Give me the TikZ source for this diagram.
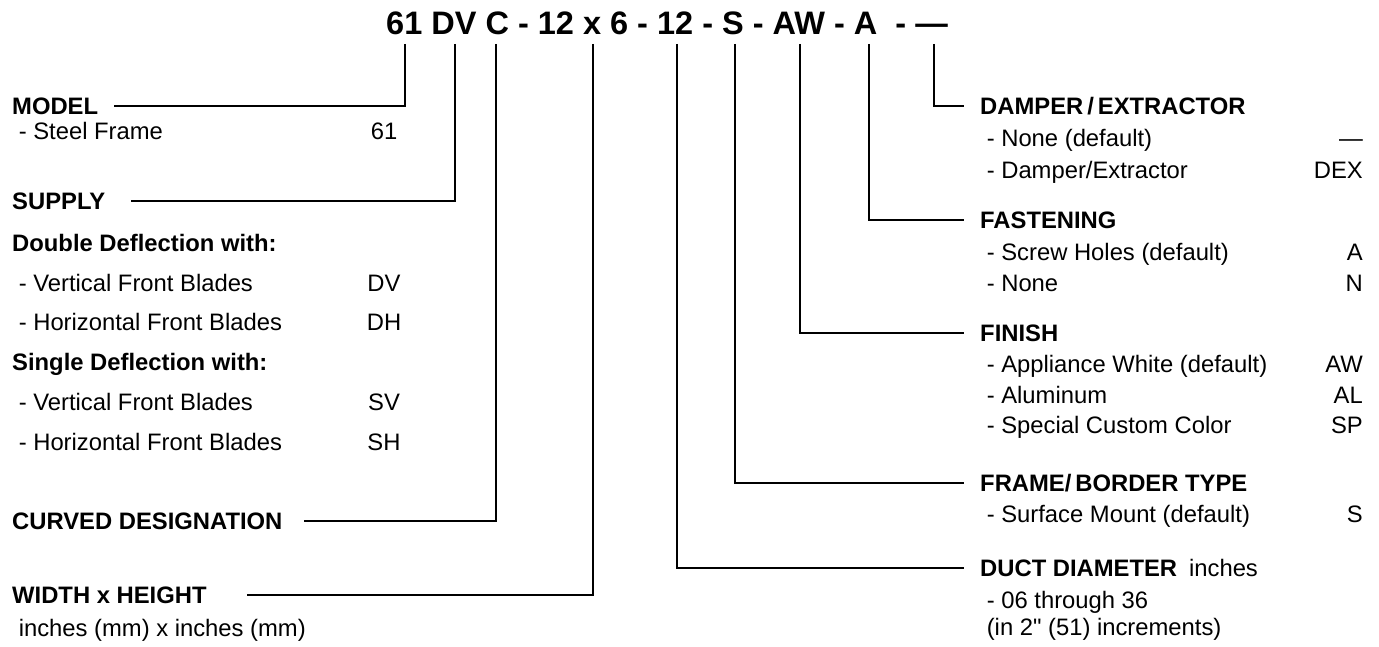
\documentclass[tikz,border=0pt]{standalone}
\usepackage{fontspec}
\setmainfont{Liberation Sans}
\newfontfamily\plainquote{Liberation Sans}

\newcommand*{\leftx}{12}
\newcommand*{\leftin}{18.6}
\newcommand*{\leftval}{384}
\newcommand*{\rightx}{980}
\newcommand*{\rightin}{986.6}
\newcommand*{\rightval}{1363}
\newcommand*{\topy}{44}

\begin{document}
\begin{tikzpicture}
[
	x=1pt, y=-1pt,
	code/.style={anchor=base west,inner sep=0pt,font=\fontsize{32.5}{38}\selectfont\bfseries},
	head/.style={anchor=base west,inner sep=0pt,text height=17pt,text depth=0pt,font=\fontsize{23.8}{28}\selectfont\bfseries},
	item/.style={anchor=base west,inner sep=0pt,font=\fontsize{23.8}{28}\selectfont},
	val/.style={anchor=base,inner sep=0pt,font=\fontsize{23.8}{28}\selectfont},
	rval/.style={anchor=base east,inner sep=0pt,font=\fontsize{23.8}{28}\selectfont},
	lead/.style={line width=1.8pt}
]
	\useasboundingbox (0,0) rectangle (1379,647);

	% model number
	\node[code] (number) at (386,35) {61 DV C - 12 x 6 - 12 - S - AW - A\ \ - \textemdash};

	% tops of the leaders
	\foreach \n/\xc in {61/405, DV/455, C/496, WH/593, DD/677, FB/735, FI/800, FA/869, DE/934} {
		\coordinate (k\n) at (\xc,\topy);
	}

	% left column
	\node[head] (model) at (\leftx,114.5) {MODEL};
	\node[item] (steel) at (\leftin,139.5) {- Steel Frame};
	\node[val] (v61) at (\leftval,139.5) {61};

	\node[head] (supply) at (\leftx,209.5) {SUPPLY};
	\node[head] (double) at (\leftx,251.5) {Double Deflection with:};
	\node[item] (dvert) at (\leftin,291.5) {- Vertical Front Blades};
	\node[val] (vDV) at (\leftval,291.5) {DV};
	\node[item] (dhor) at (\leftin,330.5) {- Horizontal Front Blades};
	\node[val] (vDH) at (\leftval,330.5) {DH};
	\node[head] (single) at (\leftx,370.5) {Single Deflection with:};
	\node[item] (svert) at (\leftin,410.5) {- Vertical Front Blades};
	\node[val] (vSV) at (\leftval,410.5) {SV};
	\node[item] (shor) at (\leftin,450.5) {- Horizontal Front Blades};
	\node[val] (vSH) at (\leftval,450.5) {SH};

	\node[head] (curved) at (\leftx,529.5) {CURVED DESIGNATION};

	\node[head] (width) at (\leftx,603.5) {WIDTH x HEIGHT};
	\node[item] (wunit) at (\leftin,636.5) {inches (mm) x inches (mm)};

	% right column
	\node[head] (damper) at (\rightx,114.5) {DAMPER\,/\,EXTRACTOR};
	\node[item] (dnone) at (\rightin,146.5) {- None (default)};
	\node[rval] (vnone) at (\rightval,146.5) {\textemdash};
	\node[item] (ddex) at (\rightin,178.5) {- Damper/Extractor};
	\node[rval] (vDEX) at (\rightval,178.5) {DEX};

	\node[head] (fasten) at (\rightx,228.5) {FASTENING};
	\node[item] (screw) at (\rightin,260.5) {- Screw Holes (default)};
	\node[rval] (vA) at (\rightval,260.5) {A};
	\node[item] (fnone) at (\rightin,291.5) {- None};
	\node[rval] (vN) at (\rightval,291.5) {N};

	\node[head] (finish) at (\rightx,341.5) {FINISH};
	\node[item] (white) at (\rightin,372.5) {- Appliance White (default)};
	\node[rval] (vAW) at (\rightval,372.5) {AW};
	\node[item] (alu) at (\rightin,403.5) {- Aluminum};
	\node[rval] (vAL) at (\rightval,403.5) {AL};
	\node[item] (custom) at (\rightin,433.5) {- Special Custom Color};
	\node[rval] (vSP) at (\rightval,433.5) {SP};

	\node[head] (frame) at (\rightx,491.5) {FRAME/\,BORDER TYPE};
	\node[item] (surface) at (\rightin,522.5) {- Surface Mount (default)};
	\node[rval] (vS) at (\rightval,522.5) {S};

	\node[head] (duct) at (\rightx,576.5) {DUCT DIAMETER\hspace{0.5em}{\mdseries inches}};
	\node[item] (drange) at (\rightin,608.5) {- 06 through 36};
	\node[item] (dstep) at (\rightin,635.5) {(in 2{\plainquote"} (51) increments)};

	% leaders
	\draw[lead] (k61) |- ([xshift=16pt]model.east);
	\draw[lead] (kDV) |- ([xshift=26pt]supply.east);
	\draw[lead] (kC) |- ([xshift=21pt]curved.east);
	\draw[lead] (kWH) |- ([xshift=40pt]width.east);
	\draw[lead] (kDD) |- ([xshift=-16pt]duct.west);
	\draw[lead] (kFB) |- ([xshift=-16pt]frame.west);
	\draw[lead] (kFI) |- ([xshift=-16pt]finish.west);
	\draw[lead] (kFA) |- ([xshift=-16pt]fasten.west);
	\draw[lead] (kDE) |- ([xshift=-16pt]damper.west);

\end{tikzpicture}
\end{document}
